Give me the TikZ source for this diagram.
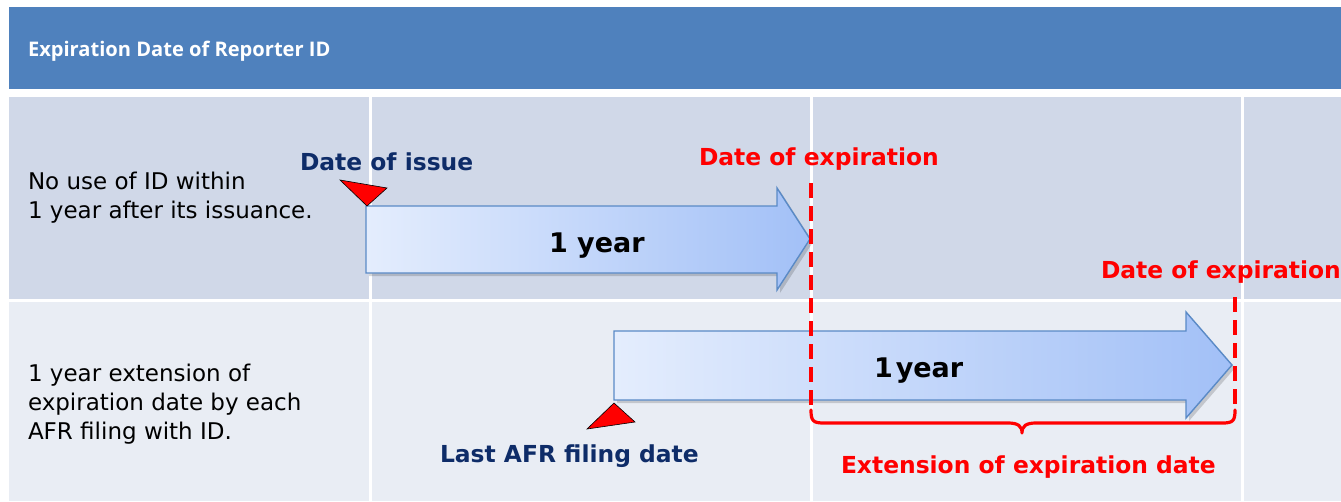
\documentclass[tikz,border=0pt]{standalone}
\usepackage{fontspec}
\setmainfont{DejaVu Sans}
\newfontfamily\hdrfont{Open Sans}
\definecolor{hdrblue}{HTML}{4F81BD}
\definecolor{rowA}{HTML}{D0D8E8}
\definecolor{rowB}{HTML}{E9EDF4}
\definecolor{navy}{HTML}{0E2C68}
\definecolor{arrL}{HTML}{E4EDFD}
\definecolor{arrR}{HTML}{A2C0F7}
\definecolor{arrEdge}{HTML}{5A8AC6}
\definecolor{expred}{HTML}{FF0000}
\begin{document}
\begin{tikzpicture}[x=1pt,y=-1pt,
  txt/.style={inner sep=0pt, outer sep=0pt, anchor=base west},
  bodytxt/.style={txt, font=\fontsize{23}{28.7}\selectfont, align=left, text=black},
  navylbl/.style={txt, font=\fontsize{23.4}{28}\selectfont\bfseries, text=navy},
  redlbl/.style={txt, font=\fontsize{23.4}{28}\selectfont\bfseries, text=expred},
  yearlbl/.style={txt, font=\fontsize{27}{32}\selectfont\bfseries, text=black},
  bluearrow/.style={left color=arrL, right color=arrR, draw=arrEdge, line width=1.4pt, line join=miter},
  arrshadow/.style={fill=black, opacity=0.16},
  marker/.style={fill=red, draw=black, line width=0.6pt, line join=miter},
  expdash/.style={draw=expred, line width=3.5pt, dash pattern=on 15pt off 8pt},
  bracestyle/.style={draw=expred, line width=3.2pt, line cap=round, line join=round}
]
\useasboundingbox (0,0) rectangle (1341,501);
\fill[white] (0,0) rectangle (1341,501);
% header
\fill[hdrblue] (9,7) rectangle (1341,89);
% row 1
\fill[rowA] (9,97) rectangle (369,299);
\fill[rowA] (372,97) rectangle (810,299);
\fill[rowA] (813,97) rectangle (1241,299);
\fill[rowA] (1244,97) rectangle (1341,299);
% row 2
\fill[rowB] (9,302) rectangle (369,501);
\fill[rowB] (372,302) rectangle (810,501);
\fill[rowB] (813,302) rectangle (1241,501);
\fill[rowB] (1244,302) rectangle (1341,501);

\node[txt, font=\hdrfont\bfseries\fontsize{20.1}{24}\selectfont, text=white] (hdr) at (28,56) {Expiration Date of Reporter ID};

\node[bodytxt] (r1) at (28,218) {No use of ID within\\1 year after its issuance.};
\node[bodytxt] (r2) at (28,439) {1 year extension of\\expiration date by each\\AFR filing with ID.};

% arrow 1
\fill[arrshadow] (369,209) -- (780,209) -- (780,191) -- (813,242) -- (780,293) -- (780,276) -- (369,276) -- cycle;
\path[bluearrow] (366,206) -- (777,206) -- (777,188) -- (810,239) -- (777,290) -- (777,273) -- (366,273) -- cycle;
% arrow 2
\fill[arrshadow] (617,334) -- (1189,334) -- (1189,315) -- (1235,368) -- (1189,421) -- (1189,403) -- (617,403) -- cycle;
\path[bluearrow] (614,331) -- (1186,331) -- (1186,312) -- (1232,365) -- (1186,418) -- (1186,400) -- (614,400) -- cycle;

\node[yearlbl] (y1) at (549,252) {1 year};
\node[yearlbl] (y2) at (874,377) {1\hspace{3pt}year};

% markers
\path[marker] (340,180) -- (387,188) -- (367,206) -- cycle;
\path[marker] (614,403) -- (635,422) -- (587,429) -- cycle;

\node[navylbl] (issue) at (300,170) {Date of issue};
\node[navylbl] (afr) at (440,462) {Last AFR filing date};

% expiration lines
\coordinate (e1top) at (811,183);
\coordinate (e1bot) at (811,410);
\coordinate (e2top) at (1235,297);
\coordinate (e2bot) at (1235,410);
\draw[expdash] (e1top) -- (e1bot);
\draw[expdash] (e2top) -- (e2bot);
\draw[bracestyle] (e1bot) .. controls (811,421) and (813,423) .. (824,423) -- (1008,423)
  .. controls (1018,423) and (1022,426) .. (1022,433)
  .. controls (1022,426) and (1026,423) .. (1036,423) -- (1222,423)
  .. controls (1233,423) and (1235,421) .. (e2bot);

\node[redlbl] (exp1) at (699,165) {Date of expiration};
\node[redlbl] (exp2) at (1101,278) {Date of expiration};
\node[redlbl] (ext) at (841,473) {Extension of expiration date};
\end{tikzpicture}
\end{document}
